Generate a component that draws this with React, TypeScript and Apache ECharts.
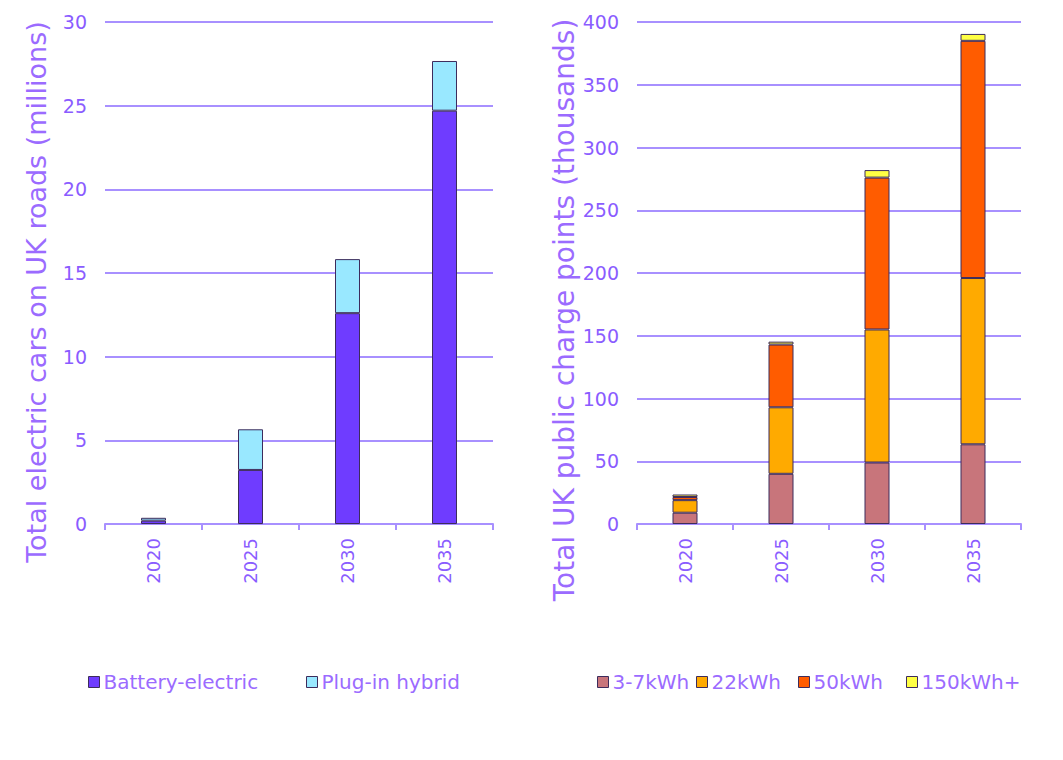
import React, { useEffect, useRef } from "react";
import * as echarts from "echarts";

const years = ["2020", "2025", "2030", "2035"];
const batteryElectric = [0.2, 3.23, 12.6, 24.7];
const plugInHybrid = [0.17, 2.43, 3.23, 2.97];
const kw3to7 = [9, 40, 49, 63.5];
const kw22 = [10, 53, 106, 132.5];
const kw50 = [2.5, 50, 121, 189];
const kw150 = [2, 2.3, 6, 5.5];

const carSeries = ["Battery-electric", "Plug-in hybrid"];
const chargeSeries = ["3-7kWh", "22kWh", "50kWh", "150kWh+"];

const FONT = "DejaVu Sans";
const TEXT = "#9b6bff";
const LABEL = "#8a5cff";
const GRID = "#a890ff";
const BORDER = "#3d2c5c";

export default function App() {
  const ref = useRef<HTMLDivElement>(null);
  useEffect(() => {
    const chart = echarts.init(ref.current!, null, { renderer: "svg" });
    const catAxis = (gridIndex: number) => ({
      type: "category",
      gridIndex,
      data: years,
      axisLine: { show: true, lineStyle: { color: GRID, width: 2 } },
      axisTick: { show: true, length: 6, lineStyle: { color: GRID, width: 2 } },
      axisLabel: { rotate: 90, color: LABEL, fontSize: 18, fontFamily: FONT, margin: 14 },
    });
    const valAxis = (gridIndex: number, max: number, interval: number, name: string, gap: number, pad: number, fs: number) => ({
      type: "value",
      gridIndex,
      min: 0,
      max,
      interval,
      name,
      nameLocation: "middle",
      nameGap: gap,
      nameTextStyle: { color: TEXT, fontSize: fs, fontFamily: FONT, padding: [0, pad, 0, 0] },
      axisLine: { show: false },
      axisTick: { show: false },
      splitLine: { show: true, lineStyle: { color: GRID, width: 2 } },
      axisLabel: { color: LABEL, fontSize: 19, fontFamily: FONT, margin: 18 },
    });
    const bar = (name: string, data: number[], color: string, idx: number, stack: string) => ({
      type: "bar",
      name,
      data,
      stack,
      xAxisIndex: idx,
      yAxisIndex: idx,
      barWidth: 25,
      itemStyle: { color, borderColor: BORDER, borderWidth: 1 },
    });
    const legend = (name: string, left: number) => ({
      data: [name],
      left,
      top: 667,
      itemWidth: 11,
      itemHeight: 11,
      icon: "rect",
      itemStyle: { borderColor: BORDER, borderWidth: 1 },
      textStyle: { color: TEXT, fontSize: 20, fontFamily: FONT, padding: [0, 0, 0, -1] },
    });
    const legendLefts = [83, 301, 592, 691, 793, 901];
    const legendNames = [...carSeries, ...chargeSeries];
    chart.setOption({
      animation: false,
      grid: [
        { left: 105, right: 570, top: 22, bottom: 236, outerBoundsMode: "none" },
        { left: 637, right: 42, top: 22, bottom: 236, outerBoundsMode: "none" },
      ],
      xAxis: [catAxis(0), catAxis(1)],
      yAxis: [
        valAxis(0, 30, 5, "Total electric cars on UK roads (millions)", 55, 38, 27),
        valAxis(1, 400, 50, "Total UK public charge points (thousands)", 56, 74, 28),
      ],
      legend: legendNames.map((n, i) => legend(n, legendLefts[i])),
      series: [
        bar(carSeries[0], batteryElectric, "#6f3cff", 0, "cars"),
        bar(carSeries[1], plugInHybrid, "#99e8ff", 0, "cars"),
        bar(chargeSeries[0], kw3to7, "#c8757b", 1, "cp"),
        bar(chargeSeries[1], kw22, "#ffaa00", 1, "cp"),
        bar(chargeSeries[2], kw50, "#ff5c00", 1, "cp"),
        bar(chargeSeries[3], kw150, "#ffff44", 1, "cp"),
      ],
    });
    return () => chart.dispose();
  }, []);
  return <div ref={ref} style={{ width: 1063, height: 760, margin: -8 }} />;
}
